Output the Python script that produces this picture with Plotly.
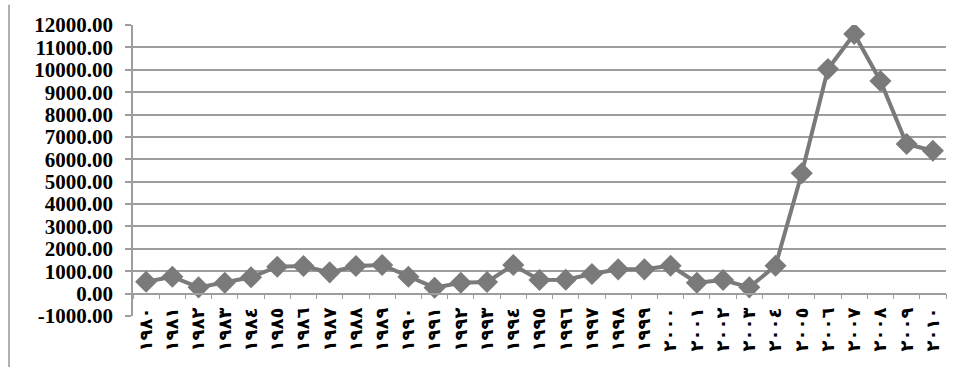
import plotly.graph_objects as go

# Annual series, 1980-2010
years = list(range(1980, 2011))
values = [530, 755, 280, 487, 728, 1202, 1233, 950, 1233, 1278,
          755, 264, 487, 518, 1278, 608, 620, 876, 1085, 1085,
          1247, 487, 608, 280, 1247, 5375, 10036, 11600, 9500, 6685,
          6385]

# Year labels written with Arabic-Indic digits
arabic_digits = str.maketrans("0123456789", "٠١٢٣٤٥٦٧٨٩")
year_labels = [str(y).translate(arabic_digits) for y in years]

y_min, y_max, y_step = -1000, 12000, 1000
y_ticks = list(range(y_min, y_max + 1, y_step))
y_tick_text = [f"{v:.2f}" for v in y_ticks]

GRID = "#9d9d9d"
LINE = "#7a7a7a"

fig = go.Figure()
fig.add_trace(go.Scatter(
    x=year_labels,
    y=values,
    mode="lines+markers",
    line=dict(color=LINE, width=4),
    marker=dict(symbol="diamond", size=17, color=LINE),
    hoverinfo="x+y",
))

fig.update_layout(
    width=963,
    height=367,
    margin=dict(l=133, r=17, t=25, b=51),
    paper_bgcolor="white",
    plot_bgcolor="white",
    showlegend=False,
    xaxis=dict(
        type="category",
        anchor="free",
        position=(0 - y_min) / (y_max - y_min),
        showgrid=False,
        showline=True,
        linecolor=GRID,
        linewidth=1.5,
        ticks="outside",
        ticklen=5,
        tickcolor=GRID,
        tickwidth=1,
        tickson="boundaries",
        tickangle=-90,
        tickfont=dict(family="DejaVu Sans", size=18, color="black", weight="bold"),
        ticklabelstandoff=6,
        automargin=False,
        range=[-0.5, len(years) - 0.5],
    ),
    yaxis=dict(
        range=[y_min, y_max],
        tickmode="array",
        tickvals=y_ticks,
        ticktext=y_tick_text,
        showgrid=True,
        gridcolor=GRID,
        gridwidth=1.5,
        zeroline=False,
        showline=True,
        linecolor=GRID,
        linewidth=1.5,
        ticks="outside",
        ticklen=6,
        tickcolor=GRID,
        tickwidth=1.5,
        tickfont=dict(family="Liberation Serif", size=21, color="black", weight="bold"),
        ticklabelstandoff=8,
        automargin=False,
    ),
    shapes=[dict(
        type="line", xref="paper", yref="paper",
        x0=-0.1525, x1=-0.1525, y0=1.07, y1=-0.18,
        line=dict(color="#b0b0b0", width=2),
    )],
)

fig.write_html("out.html")
